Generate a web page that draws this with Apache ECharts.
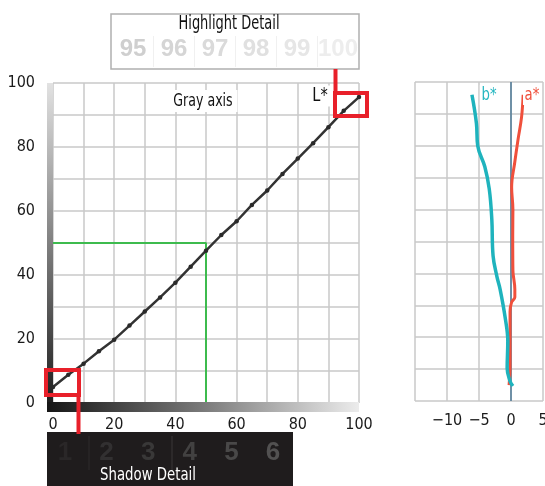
<!DOCTYPE html>
<html><head><meta charset="utf-8">
<script src="https://cdn.jsdelivr.net/npm/echarts@6/dist/echarts.min.js"></script>
<style>html,body{margin:0;padding:0;background:#fff}#c{width:545px;height:486px}</style>
</head><body><div id="c"></div>
<script>
// ---- data ----
const grayInput = [0,5,10,15,20,25,30,35,40,45,50,55,60,65,70,75,80,85,90,95,100];
const grayL     = [5,8.8,12.3,16.2,19.8,24.2,28.6,33,37.6,42.6,47.6,52.5,56.8,61.9,66.4,71.6,76.4,81.2,86.2,91.3,95.6];
const bStarL   = [96,87,80,73.5,66.5,57,45.5,39,35,26,18.7,10.3,6.2,4.7];
const bStarVal = [-6.1,-5.4,-5.2,-4.1,-3.4,-3.0,-2.8,-2.2,-1.7,-0.9,-0.5,-0.6,-0.15,0.3];
const aStarL   = [96,89,82,75,67,60,52,41,35,32.5,31,28,20,11,5];
const aStarVal = [1.9,1.65,1.1,0.6,0.1,0.3,0.27,0.3,0.6,0.6,0.1,-0.15,-0.15,-0.15,-0.3];
const midTone = [[0,50],[50,50],[50,0]];
const highlightLabels = ['95','96','97','98','99','100'];
const shadowLabels = ['1','2','3','4','5','6'];

const NARROW = "'DejaVu Sans Condensed','Liberation Sans Narrow',sans-serif";
const chart = echarts.init(document.getElementById('c'), null, {renderer:'canvas'});
const gridLine = {show:true, lineStyle:{color:'#c9c9c9', width:1.5}};
const hlColors = ['#cfcfcf','#d5d5d5','#dadada','#e0e0e0','#e6e6e6','#ededed'];
const shColors = ['#2a2728','#323031','#393838','#424141','#494848','#525151'];

function label(text, x, y, color, size, sx, extra){
  return Object.assign({type:'text', x:x, y:y, scaleX:sx, z:21,
    style:Object.assign({text:text, x:0, y:0, textAlign:'center', textVerticalAlign:'middle',
      fill:color, font:size+'px '+NARROW}, extra||{})});
}

const graphics = [];
// gradient strips
graphics.push({type:'rect', z:10, shape:{x:47,y:83,width:6,height:320},
  style:{fill:new echarts.graphic.LinearGradient(0,0,0,1,[{offset:0,color:'#e2e2e2'},{offset:1,color:'#1e1e1e'}])}});
graphics.push({type:'rect', z:10, shape:{x:47,y:402,width:312,height:10},
  style:{fill:new echarts.graphic.LinearGradient(0,0,1,0,[{offset:0,color:'#161616'},{offset:0.5,color:'#7a7a7a'},{offset:1,color:'#ececec'}])}});
// highlight box
graphics.push({type:'rect', z:20, shape:{x:111,y:14,width:248,height:55}, style:{fill:'#fff', stroke:'#b0b0b0', lineWidth:1.5}});
graphics.push(label('Highlight Detail', 229, 24, '#111', 19.5, 0.74));
highlightLabels.forEach((t,i)=>{
  graphics.push({type:'text', z:21, style:{text:t, x:133+i*41, y:49, textAlign:'center', textVerticalAlign:'middle', fill:hlColors[i], font:'bold 24px "Liberation Sans",Arial,sans-serif'}});
  if(i>0) graphics.push({type:'line', z:21, shape:{x1:112.5+i*41,y1:36,x2:112.5+i*41,y2:67}, style:{stroke:'#f0f0f0', lineWidth:1}});
});
// shadow box
graphics.push({type:'rect', z:20, shape:{x:47,y:432,width:246,height:60}, style:{fill:'#1f1c1d'}});
shadowLabels.forEach((t,i)=>{
  graphics.push({type:'text', z:21, style:{text:t, x:65+i*41.6, y:453, textAlign:'center', textVerticalAlign:'middle', fill:shColors[i], font:'bold 26px "Liberation Sans",Arial,sans-serif'}});
});
graphics.push({type:'line', z:21, shape:{x1:89,y1:436,x2:89,y2:470}, style:{stroke:'#2e2b2c', lineWidth:1}});
graphics.push({type:'line', z:21, shape:{x1:172,y1:436,x2:172,y2:470}, style:{stroke:'#3a3738', lineWidth:1}});
graphics.push(label('Shadow Detail', 148, 475, '#fff', 18.5, 0.8));
// red callouts
graphics.push({type:'line', z:30, shape:{x1:335.5,y1:69,x2:335.5,y2:92}, style:{stroke:'#e8202a', lineWidth:4}});
graphics.push({type:'rect', z:30, shape:{x:335,y:93,width:32,height:23}, style:{fill:null, stroke:'#e8202a', lineWidth:4}});
graphics.push({type:'rect', z:30, shape:{x:46,y:370,width:33,height:25}, style:{fill:null, stroke:'#e8202a', lineWidth:4}});
graphics.push({type:'line', z:30, shape:{x1:78.5,y1:395,x2:78.5,y2:434}, style:{stroke:'#e8202a', lineWidth:4}});
// in-plot labels
graphics.push(label('Gray axis', 203, 101, '#111', 17.5, 0.8, {backgroundColor:'#fff', padding:[2,6]}));
graphics.push(label('L*', 320, 96, '#111', 19, 0.85, {backgroundColor:'#fff', padding:[1,3]}));
graphics.push(label('b*', 489, 95, '#23b6c0', 18, 0.82, {backgroundColor:'#fff', padding:[1,2]}));
graphics.push(label('a*', 532, 95, '#f0503c', 18, 0.82, {backgroundColor:'#fff', padding:[1,2]}));

const axisText = {color:'#1a1a1a', fontSize:16, fontFamily:NARROW};
const option = {
  animation:false,
  backgroundColor:'#fff',
  grid:[
    {left:53, top:83, width:306, height:320, containLabel:false, outerBoundsMode:'none'},
    {left:415, top:82, width:128, height:319, containLabel:false, outerBoundsMode:'none'}
  ],
  xAxis:[
    {gridIndex:0, type:'value', min:0, max:100, interval:10,
     axisLine:{show:false}, axisTick:{show:false}, splitLine:gridLine,
     axisLabel:Object.assign({margin:14, formatter:v=> v%20===0 ? String(v) : ''}, axisText)},
    {gridIndex:1, type:'value', min:-15, max:5, interval:5,
     axisLine:{show:false}, axisTick:{show:false}, splitLine:gridLine,
     axisLabel:Object.assign({margin:12, formatter:v=> v===-15 ? '' : (v<0 ? '\u2212'+Math.abs(v) : String(v))}, axisText)}
  ],
  yAxis:[
    {gridIndex:0, type:'value', min:0, max:100, interval:10,
     axisLine:{show:false}, axisTick:{show:false}, splitLine:gridLine,
     axisLabel:Object.assign({margin:18, formatter:v=> v%20===0 ? String(v) : ''}, axisText)},
    {gridIndex:1, type:'value', min:0, max:100, interval:10,
     axisLine:{show:false}, axisTick:{show:false}, splitLine:gridLine,
     axisLabel:{show:false}}
  ],
  series:[
    {type:'line', xAxisIndex:0, yAxisIndex:0, data:midTone, symbol:'none',
     lineStyle:{color:'#3dbb4e', width:2}, z:3},
    {type:'line', xAxisIndex:0, yAxisIndex:0, data:grayInput.map((x,i)=>[x,grayL[i]]),
     symbol:'circle', symbolSize:4.5, itemStyle:{color:'#2a2a2a'},
     lineStyle:{color:'#333', width:2.5}, z:5},
    {type:'line', xAxisIndex:1, yAxisIndex:1, data:aStarVal.map((v,i)=>[v,aStarL[i]]),
     symbol:'none', smooth:0.4, lineStyle:{color:'#f0503c', width:3}, z:5,
     markLine:{silent:true, symbol:'none', label:{show:false},
       lineStyle:{color:'#4d7896', width:1.5, type:'solid'}, data:[{xAxis:0}]}},
    {type:'line', xAxisIndex:1, yAxisIndex:1, data:bStarVal.map((v,i)=>[v,bStarL[i]]),
     symbol:'none', smooth:0.4, lineStyle:{color:'#1fb3bd', width:3.5}, z:6}
  ],
  graphic:graphics
};
chart.setOption(option);
</script></body></html>
